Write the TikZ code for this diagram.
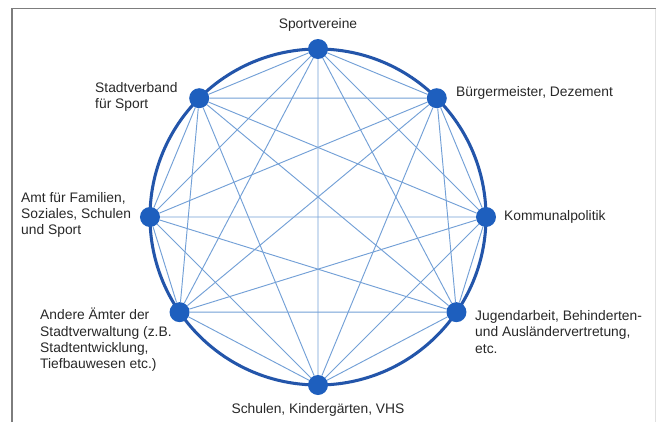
\documentclass[tikz,border=0pt]{standalone}
\usepackage{fontspec}
\setmainfont{Liberation Sans}
\usepackage{tikz}
\usepackage{color}
\definecolor{dotblue}{RGB}{30,95,190}
\definecolor{ringblue}{RGB}{35,85,170}
\definecolor{edgeblue}{RGB}{115,160,215}
\definecolor{txtgray}{RGB}{40,40,40}
\definecolor{framegray}{RGB}{125,125,125}

\tikzset{
  dot/.style={circle, fill=dotblue, minimum size=0.6cm, inner sep=0pt},
  edge/.style={edgeblue, line width=0.8pt},
  txt/.style={text=txtgray, inner sep=0pt, align=left, font=\fontsize{11.8}{14}\selectfont},
}

\begin{document}
\begin{tikzpicture}
  \useasboundingbox (-9.54, -6.15) rectangle (10.14, 6.51);
  \fill[white] (-9.54, -6.15) rectangle (10.14, 6.51);

  % frame
  \draw[framegray, line width=1.6pt] (-9.18, -6.15) -- (-9.18, 6.255) -- (10.14, 6.255);
  \draw[black!12, line width=0.6pt] (10.11, 6.255) -- (10.11, -6.15);

  % ring
  \draw[ringblue, line width=2.6pt] (0, 0) circle (5.04);

  \node[dot] (sv) at (90:5.04)    {};
  \node[dot] (bm) at (45:5.04)    {};
  \node[dot] (kp) at (0:5.04)     {};
  \node[dot] (ja) at (-34.5:5.04) {};
  \node[dot] (sk) at (-90:5.04)   {};
  \node[dot] (aa) at (214.5:5.04) {};
  \node[dot] (af) at (180:5.04)   {};
  \node[dot] (sb) at (135:5.04)   {};

  \draw[edge] (sv) -- (bm) (sv) -- (kp) (sv) -- (ja) (sv) -- (sk) (sv) -- (aa) (sv) -- (af) (sv) -- (sb);
  \draw[edge] (bm) -- (kp) (bm) -- (ja) (bm) -- (sk) (bm) -- (aa) (bm) -- (af) (bm) -- (sb);
  \draw[edge] (kp) -- (ja) (kp) -- (sk) (kp) -- (aa) (kp) -- (af) (kp) -- (sb);
  \draw[edge] (ja) -- (sk) (ja) -- (aa) (ja) -- (af) (ja) -- (sb);
  \draw[edge] (sk) -- (aa) (sk) -- (af) (sk) -- (sb);
  \draw[edge] (aa) -- (af) (aa) -- (sb);
  \draw[edge] (af) -- (sb);

  \node[txt]              (svT) at (0, 5.76)      {Sportvereine};
  \node[txt, anchor=west] (sbT) at (-6.69, 3.60)  {Stadtverband\\für Sport};
  \node[txt, anchor=west] (bmT) at (4.14, 3.72)   {Bürgermeister, Dezement};
  \node[txt, anchor=west] (afT) at (-8.91, 0.06)  {Amt für Familien,\\Soziales, Schulen\\und Sport};
  \node[txt, anchor=west] (kpT) at (5.58, 0.00)   {Kommunalpolitik};
  \node[txt, anchor=west] (aaT) at (-8.34, -3.69) {Andere Ämter der\\Stadtverwaltung (z.B.\\Stadtentwicklung,\\Tiefbauwesen etc.)};
  \node[txt, anchor=west] (jaT) at (4.71, -3.44)  {Jugendarbeit, Behinderten-\\und Ausländervertretung,\\etc.};
  \node[txt]              (skT) at (0, -5.79)     {Schulen, Kindergärten, VHS};
\end{tikzpicture}
\end{document}
